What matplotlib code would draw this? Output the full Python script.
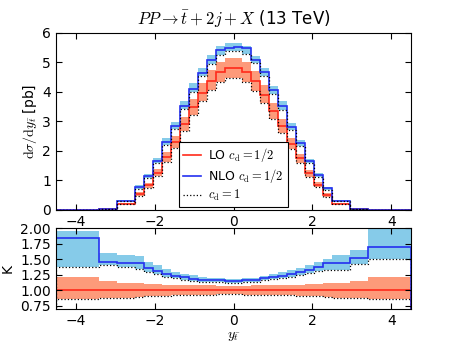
import matplotlib
matplotlib.use("Agg")
import matplotlib.pyplot as plt
import numpy as np
from matplotlib.lines import Line2D

plt.rcParams["mathtext.fontset"] = "cm"
plt.rcParams["font.size"] = 10
plt.rcParams["xtick.direction"] = "in"
plt.rcParams["ytick.direction"] = "in"
plt.rcParams["xtick.top"] = True
plt.rcParams["ytick.right"] = True
plt.rcParams["xtick.major.size"] = 4
plt.rcParams["ytick.major.size"] = 4

# rapidity bins of the anti-top
edges = np.concatenate([[-4.5, -3.41, -2.955], np.linspace(-2.5, 2.5, 23), [2.955, 3.41, 4.5]])

# d sigma / d y  [pb]
lo = [0.0020, 0.021, 0.215, 0.535, 0.84, 1.26, 1.80, 2.30, 2.91, 3.48, 3.98, 4.38, 4.66, 4.80,
      4.80, 4.68, 4.36, 3.91, 3.34, 2.85, 2.24, 1.75, 1.24, 0.86, 0.51, 0.215, 0.020, 0.0020]
lo_up = [0.00244, 0.0242, 0.241, 0.594, 0.924, 1.380, 1.962, 2.507, 3.157, 3.776, 4.298, 4.730, 5.010, 5.160,
         5.160, 5.031, 4.709, 4.223, 3.624, 3.092, 2.442, 1.908, 1.358, 0.946, 0.566, 0.241, 0.0230, 0.00244]
lo_cd1 = [0.00171, 0.0183, 0.189, 0.476, 0.756, 1.140, 1.638, 2.105, 2.677, 3.202, 3.682, 4.052, 4.334, 4.464,
          4.464, 4.352, 4.033, 3.617, 3.073, 2.622, 2.050, 1.593, 1.122, 0.774, 0.454, 0.189, 0.0174, 0.00171]
nlo = [0.0037, 0.0305, 0.310, 0.770, 1.142, 1.651, 2.286, 2.829, 3.521, 4.106, 4.657, 5.081, 5.406, 5.496,
       5.530, 5.476, 5.079, 4.692, 4.075, 3.506, 2.822, 2.275, 1.649, 1.187, 0.734, 0.311, 0.0304, 0.0034]
nlo_up = [0.00392, 0.0338, 0.338, 0.829, 1.226, 1.764, 2.430, 2.990, 3.696, 4.315, 4.816, 5.256, 5.545, 5.664,
          5.664, 5.569, 5.232, 4.809, 4.208, 3.677, 2.957, 2.380, 1.736, 1.247, 0.765, 0.338, 0.0330, 0.0042]
nlo_cd1 = [0.00276, 0.0294, 0.297, 0.717, 1.084, 1.588, 2.196, 2.737, 3.405, 4.002, 4.537, 4.949, 5.266, 5.376,
           5.376, 5.288, 4.970, 4.536, 3.941, 3.392, 2.710, 2.170, 1.575, 1.127, 0.678, 0.286, 0.0284, 0.0030]

lo = np.array(lo)
lo_up = np.array(lo_up)
lo_cd1 = np.array(lo_cd1)
nlo = np.array(nlo)
nlo_up = np.array(nlo_up)
nlo_cd1 = np.array(nlo_cd1)

red = "#ff2a1a"
blue = "#2430f0"
red_band = "#fd9a7a"
blue_band = "#86cbe9"

fig = plt.figure(figsize=(4.57, 3.43), dpi=100)
ax1 = fig.add_axes([0.1225, 0.388, 0.777, 0.516])
ax2 = fig.add_axes([0.1225, 0.1, 0.777, 0.234])

# main panel
ax1.stairs(nlo_up, edges, baseline=nlo_cd1, fill=True, color=blue_band, lw=0)
ax1.stairs(lo_up, edges, baseline=lo_cd1, fill=True, color=red_band, lw=0)
ax1.stairs(lo, edges, color=red, lw=1.2)
ax1.stairs(nlo, edges, color=blue, lw=1.2)
ax1.stairs(lo_cd1, edges, color="k", lw=0.9, ls=":")
ax1.stairs(nlo_cd1, edges, color="k", lw=0.9, ls=":")
ax1.set_xlim(-4.5, 4.5)
ax1.set_ylim(0, 6)
ax1.set_xticks([-4, -2, 0, 2, 4])
ax1.set_yticks([0, 1, 2, 3, 4, 5, 6])
ax1.set_ylabel(r"$\mathrm{d}\sigma/\mathrm{d}y_{\bar{t}}$ [pb]", labelpad=2)
ax1.set_title(r"$PP \to \bar{t} + 2j + X$ (13 TeV)", fontsize=12)

handles = [
    Line2D([], [], color=red, lw=1.2),
    Line2D([], [], color=blue, lw=1.2),
    Line2D([], [], color="k", lw=0.9, ls=":"),
]
labels = [r"LO $c_\mathrm{d}=1/2$", r"NLO $c_\mathrm{d}=1/2$", r"$c_\mathrm{d}=1$"]
leg = ax1.legend(handles, labels, loc="lower center", bbox_to_anchor=(0.5, 0.0),
                 fancybox=False, framealpha=1, edgecolor="k", fontsize=9,
                 handlelength=1.4, handletextpad=0.6, borderpad=0.35, labelspacing=0.22,
                 borderaxespad=0.2)
leg.get_frame().set_linewidth(0.8)

# K-factor panel
ax2.stairs(nlo_up / lo, edges, baseline=nlo_cd1 / lo, fill=True, color=blue_band, lw=0)
ax2.stairs(lo_up / lo, edges, baseline=lo_cd1 / lo, fill=True, color=red_band, lw=0)
ax2.stairs(lo / lo, edges, color=red, lw=1.2)
ax2.stairs(nlo / lo, edges, color=blue, lw=1.2)
ax2.stairs(lo_cd1 / lo, edges, color="k", lw=0.9, ls=":")
ax2.stairs(nlo_cd1 / lo, edges, color="k", lw=0.9, ls=":")
ax2.set_xlim(-4.5, 4.5)
ax2.set_ylim(0.7, 2.0)
ax2.set_xticks([-4, -2, 0, 2, 4])
ax2.set_yticks([0.75, 1.0, 1.25, 1.5, 1.75, 2.0])
ax2.yaxis.set_major_formatter(matplotlib.ticker.FormatStrFormatter("%.2f"))
ax2.set_ylabel("K")
ax2.set_xlabel(r"$y_{\bar{t}}$", labelpad=1)

plt.savefig("out.png", dpi=100)
